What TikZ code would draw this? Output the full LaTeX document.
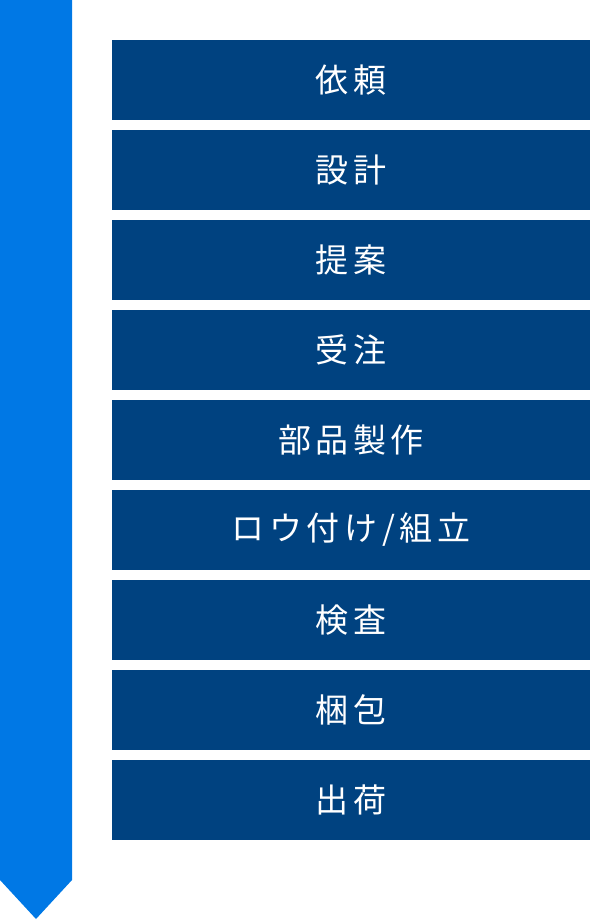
\documentclass[tikz,border=0pt]{standalone}
\usepackage{fontspec}
\newfontfamily\jpfont[LetterSpace=14]{Noto Sans CJK JP}
\usetikzlibrary{positioning}
\definecolor{ArrowClr}{rgb}{0,0.47,0.9}
\definecolor{StepClr}{rgb}{0,0.26,0.5}

\begin{document}
\begin{tikzpicture}[x=1pt,y=1pt,
  stepbox/.style={fill=StepClr,text=white,inner sep=0pt,outer sep=0pt,
    minimum width=478pt,minimum height=80pt,
    font=\jpfont\fontsize{33}{38}\selectfont}]
\useasboundingbox (0,0) rectangle (612,-920);

% flow arrow
\fill[ArrowClr] (0,0) -- (72,0) -- (72,-880) -- (36,-919) -- (0,-880) -- cycle;

% steps
\node[stepbox,anchor=north west] (s1) at (112,-40) {依頼};
\node[stepbox,below=10pt of s1] (s2) {設計};
\node[stepbox,below=10pt of s2] (s3) {提案};
\node[stepbox,below=10pt of s3] (s4) {受注};
\node[stepbox,below=10pt of s4] (s5) {部品製作};
\node[stepbox,below=10pt of s5] (s6) {ロウ付け/組立};
\node[stepbox,below=10pt of s6] (s7) {検査};
\node[stepbox,below=10pt of s7] (s8) {梱包};
\node[stepbox,below=10pt of s8] (s9) {出荷};

\end{tikzpicture}
\end{document}
